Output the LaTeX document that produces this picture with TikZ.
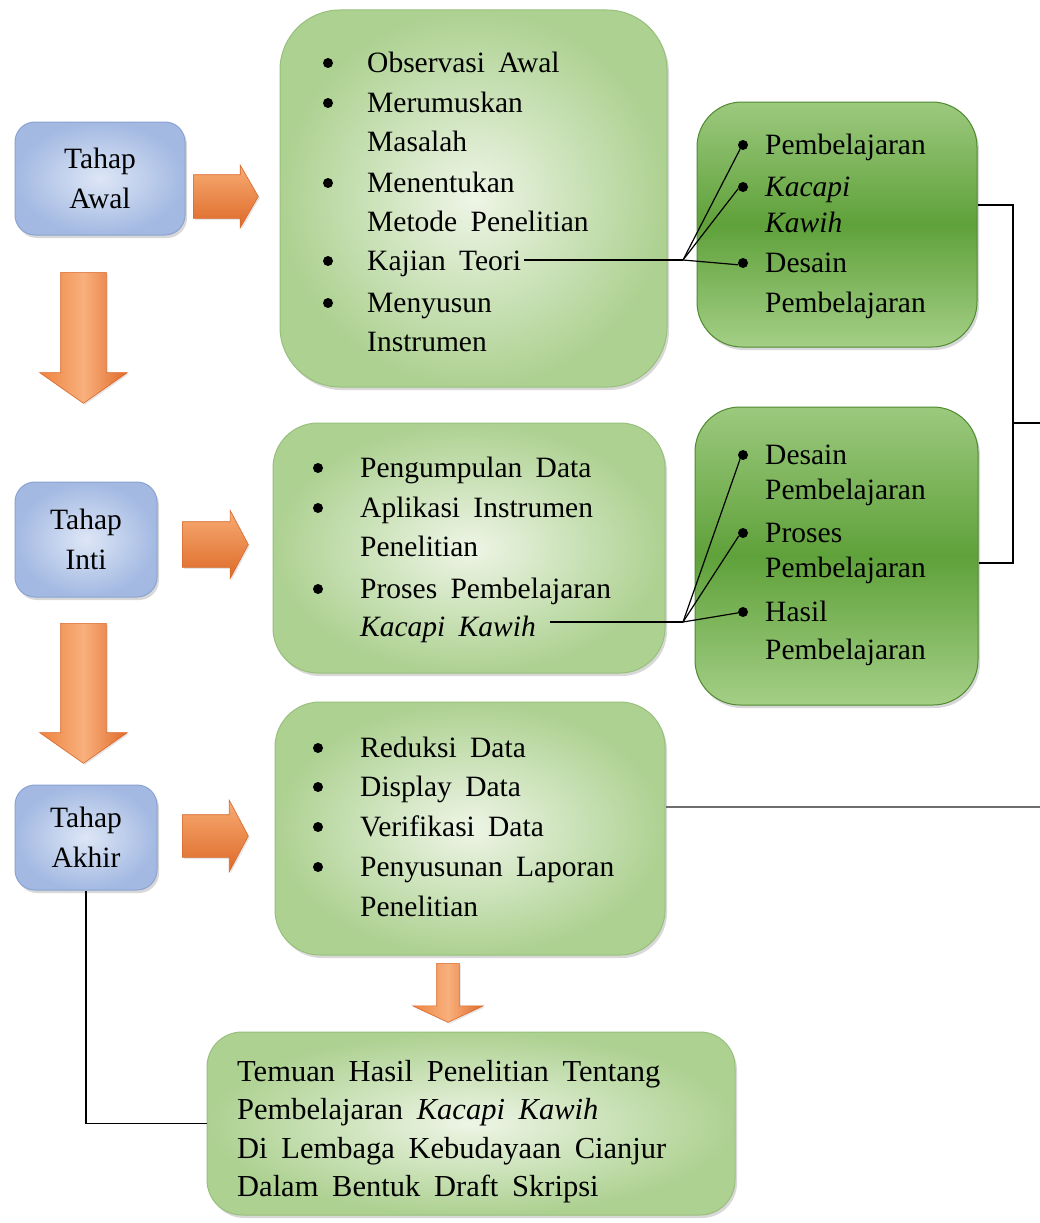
\documentclass[tikz,border=0pt]{standalone}
\usepackage{fontspec}
\setmainfont[WordSpace=1.8]{Liberation Serif}
\usetikzlibrary{shapes.arrows,shadows}
\definecolor{bluein}{HTML}{DDE6F6}
\definecolor{blueout}{HTML}{A3B9E2}
\definecolor{bluebd}{HTML}{8AA3D2}
\definecolor{lgin}{HTML}{EEF5E6}
\definecolor{lgout}{HTML}{ADD191}
\definecolor{lgbd}{HTML}{98BF7C}
\definecolor{dgtop}{HTML}{9CC97E}
\definecolor{dgmid}{HTML}{5FA13A}
\definecolor{dgbot}{HTML}{A4CF86}
\definecolor{dgbd}{HTML}{4F8A2F}
\definecolor{ortop}{HTML}{F8AB74}
\definecolor{orbot}{HTML}{DD6A28}
\definecolor{orbd}{HTML}{D9692C}
\definecolor{orleft}{HTML}{EE8440}
\definecolor{ormid}{HTML}{F8B07C}
\definecolor{orright}{HTML}{E06A2A}
\definecolor{grayline}{HTML}{6E6E6E}
\newcommand\txtfont{\fontsize{29.5}{40}\selectfont}
\newcommand\bigtxtfont{\fontsize{30.5}{40}\selectfont}
\begin{document}
\begin{tikzpicture}[x=1pt,y=-1pt,
  shad/.style={drop shadow={opacity=.3,shadow xshift=2pt,shadow yshift=-3pt}},
  bluebox/.style={draw=bluebd, line width=1pt, rounded corners=20pt, inner color=bluein, outer color=blueout, shad, align=center, font=\txtfont, inner sep=0pt},
  lgbox/.style={draw=lgbd, line width=1pt, inner color=lgin, outer color=lgout, shad, inner sep=0pt},
  dgbox/.style={draw=dgbd, line width=1pt, rounded corners=45pt, top color=dgtop, bottom color=dgbot, middle color=dgmid, shad, inner sep=0pt},
  txt/.style={font=\txtfont, inner sep=0pt, anchor=base west},
  bigtxt/.style={font=\bigtxtfont, inner sep=0pt, anchor=base west},
  bul/.style={circle, fill=black, inner sep=0pt, minimum size=10pt},
  conn/.style={draw=black, line width=1.2pt},
  rarrow/.style={single arrow, draw=orbd, line width=0.6pt, top color=ortop, bottom color=orbot, inner xsep=0pt, anchor=tail, drop shadow={opacity=.2,shadow xshift=1.5pt,shadow yshift=-1.5pt}},
  darrow/.style={single arrow, shape border rotate=270, draw=orbd, line width=0.6pt, left color=orleft, right color=orright, middle color=ormid, inner ysep=0pt, anchor=tail, drop shadow={opacity=.2,shadow xshift=1.5pt,shadow yshift=-1.5pt}}
]
\useasboundingbox (0,0) rectangle (1040,1223);
\fill[white] (0,0) rectangle (1040,1223);

% stage boxes
\node[bluebox, minimum width=170pt, minimum height=113pt] (awal) at (100,178.5) {Tahap\\Awal};
\node[bluebox, minimum width=142pt, minimum height=115pt] (inti) at (86,539.5) {Tahap\\Inti};
\node[bluebox, minimum width=142pt, minimum height=105pt] (akhir) at (86,837.5) {Tahap\\Akhir};

% light green boxes
\node[lgbox, rounded corners=60pt, minimum width=387pt, minimum height=377pt] (g1) at (473.5,198.5) {};
\node[lgbox, rounded corners=45pt, minimum width=392pt, minimum height=250pt] (g2) at (469,548) {};
\node[lgbox, rounded corners=45pt, minimum width=390pt, minimum height=253pt] (g3) at (470,828.5) {};
\node[lgbox, rounded corners=35pt, minimum width=528pt, minimum height=183pt] (g4) at (471,1123.5) {};

% dark green boxes
\node[dgbox, minimum width=280pt, minimum height=245pt] (d1) at (837,224.5) {};
\node[dgbox, minimum width=283pt, minimum height=298pt] (d2) at (836.5,556) {};

% arrows
\node[rarrow, minimum height=65pt, inner ysep=21.5pt, single arrow head extend=9.5pt, single arrow tip angle=120] (ra1) at (193,196.5) {};
\node[rarrow, minimum height=66pt, inner ysep=22.5pt, single arrow head extend=11.5pt, single arrow tip angle=124] (ra2) at (182,544.5) {};
\node[rarrow, minimum height=66pt, inner ysep=21pt, single arrow head extend=14.5pt, single arrow tip angle=124] (ra3) at (182,836) {};
\node[darrow, minimum height=131pt, inner xsep=22.5pt, single arrow head extend=21pt, single arrow tip angle=110] (da1) at (83.5,272) {};
\node[darrow, minimum height=140pt, inner xsep=22.5pt, single arrow head extend=21pt, single arrow tip angle=110] (da2) at (83.5,623) {};
\node[darrow, minimum height=59pt, inner xsep=11pt, single arrow head extend=24pt, single arrow tip angle=130] (da3) at (448,963) {};

% texts g1
\node[txt] (t11) at (367,72) {Observasi Awal};
\node[txt] (t12) at (367,112) {Merumuskan};
\node[txt] (t13) at (367,151) {Masalah};
\node[txt] (t14) at (367,192) {Menentukan};
\node[txt] (t15) at (367,231) {Metode Penelitian};
\node[txt] (t16) at (367,270) {Kajian Teori};
\node[txt] (t17) at (367,312) {Menyusun};
\node[txt] (t18) at (367,351) {Instrumen};
\node[bul] (b11) at (328,63) {};
\node[bul] (b12) at (328,103) {};
\node[bul] (b14) at (328,183) {};
\node[bul] (b16) at (328,261) {};
\node[bul] (b17) at (328,303) {};

% texts g2
\node[txt] (t21) at (360,477) {Pengumpulan Data};
\node[txt] (t22) at (360,517) {Aplikasi Instrumen};
\node[txt] (t23) at (360,556) {Penelitian};
\node[txt] (t24) at (360,598) {Proses Pembelajaran};
\node[txt] (t25) at (360,636) {\textit{Kacapi Kawih}};
\node[bul] (b21) at (318,468) {};
\node[bul] (b22) at (318,508) {};
\node[bul] (b24) at (318,589) {};

% texts g3
\node[txt] (t31) at (360,757) {Reduksi Data};
\node[txt] (t32) at (360,796) {Display Data};
\node[txt] (t33) at (360,836) {Verifikasi Data};
\node[txt] (t34) at (360,876) {Penyusunan Laporan};
\node[txt] (t35) at (360,916) {Penelitian};
\node[bul] (b31) at (318,748) {};
\node[bul] (b32) at (318,787) {};
\node[bul] (b33) at (318,827) {};
\node[bul] (b34) at (318,867) {};

% texts g4
\node[bigtxt] (t41) at (237,1081) {Temuan Hasil Penelitian Tentang};
\node[bigtxt] (t42) at (237,1119) {Pembelajaran \textit{Kacapi Kawih}};
\node[bigtxt] (t43) at (237,1158) {Di Lembaga Kebudayaan Cianjur};
\node[bigtxt] (t44) at (237,1196) {Dalam Bentuk Draft Skripsi};

% texts d1
\node[txt] (u11) at (765,154) {Pembelajaran};
\node[txt] (u12) at (765,196) {\textit{Kacapi}};
\node[txt] (u13) at (765,232) {\textit{Kawih}};
\node[txt] (u14) at (765,272) {Desain};
\node[txt] (u15) at (765,312) {Pembelajaran};
\node[bul] (c11) at (743,145) {};
\node[bul] (c12) at (743,187) {};
\node[bul] (c14) at (743,263) {};

% texts d2
\node[txt] (u21) at (765,464) {Desain};
\node[txt] (u22) at (765,499) {Pembelajaran};
\node[txt] (u23) at (765,542) {Proses};
\node[txt] (u24) at (765,577) {Pembelajaran};
\node[txt] (u25) at (765,621) {Hasil};
\node[txt] (u26) at (765,659) {Pembelajaran};
\node[bul] (c21) at (743,455) {};
\node[bul] (c23) at (743,533) {};
\node[bul] (c25) at (743,612) {};

% connectors
\coordinate (j1) at (683,260);
\coordinate (j2) at (683,622);
\draw[conn] ([xshift=3pt]t16.east |- j1) -- (j1);
\draw[conn] (j1) -- (c11.235);
\draw[conn] (j1) -- (c12.200);
\draw[conn] (j1) -- (c14.200);
\draw[conn] ([xshift=14pt]t25.east |- j2) -- (j2);
\draw[conn] (j2) -- (c21.235);
\draw[conn] (j2) -- (c23.215);
\draw[conn] (j2) -- (c25.190);

\coordinate (br1) at (1013,205);
\coordinate (br2) at (1013,563);
\coordinate (brout) at (1040,423);
\draw[conn] (d1.east |- br1) -- (br1) -- (br2) -- (d2.east |- br2);
\draw[conn] (br1 |- brout) -- (brout);

\coordinate (out3) at (1040,807);
\draw[draw=grayline, line width=2pt] (g3.east |- out3) -- (out3);

\draw[conn] (akhir.south) |- (g4.west);
\end{tikzpicture}
\end{document}
